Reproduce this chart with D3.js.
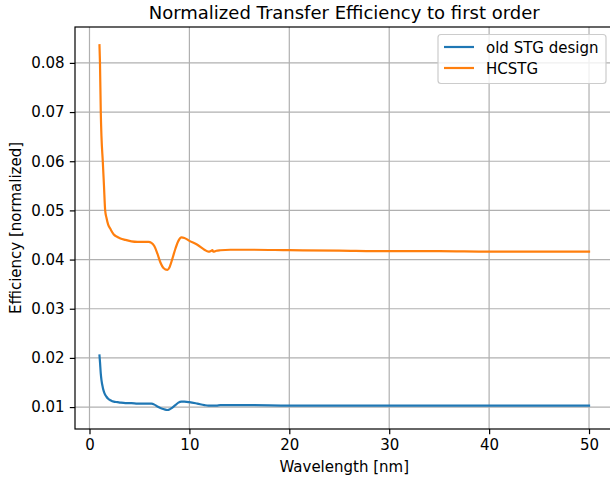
<!DOCTYPE html>
<html>
<head>
<meta charset="utf-8">
<script src="https://cdn.jsdelivr.net/npm/d3@7"></script>
<style>
  body { margin: 0; background: #fff; }
  text { font-family: "DejaVu Sans", sans-serif; fill: #000; }
</style>
</head>
<body>
<div id="chart"></div>
<script>
// wavelength samples [nm]
var wavelength = [1.0, 1.05, 1.13, 1.2, 1.33, 1.45, 1.57, 1.7, 1.87, 2.1,
    2.43, 2.8, 3.1, 3.6, 4.2, 4.8, 5.5, 5.9, 6.2, 6.5,
    6.8, 7.1, 7.4, 7.8, 8.0, 8.3, 8.6, 8.9, 9.2, 9.5,
    10.0, 10.8, 11.5, 11.9, 12.2, 12.3, 12.4, 12.7, 13.1, 14.1,
    16, 20, 25, 30, 35, 40, 45, 50];

var oldStg = [0.0205, 0.0192, 0.0168, 0.0155, 0.0140, 0.0131, 0.0125, 0.0121, 0.0117, 0.0114,
    0.0111, 0.0110, 0.0109, 0.0108, 0.0108, 0.0107, 0.0107, 0.0107, 0.0107, 0.0105,
    0.0101, 0.0098, 0.0096, 0.0094, 0.0095, 0.0099, 0.0104, 0.0109, 0.0111, 0.0111,
    0.0110, 0.0107, 0.0104, 0.0103, 0.0103, 0.0103, 0.0103, 0.0103, 0.0104, 0.0104,
    0.0104, 0.0103, 0.0103, 0.0103, 0.0103, 0.0103, 0.0103, 0.0103];

var hcstg = [0.0836, 0.0800, 0.0700, 0.0650, 0.0600, 0.0550, 0.0500, 0.0485, 0.0471, 0.0462,
    0.0451, 0.0446, 0.0443, 0.0440, 0.0437, 0.0436, 0.0436, 0.0436, 0.0434, 0.0427,
    0.0412, 0.0394, 0.0383, 0.0379, 0.0384, 0.0402, 0.0422, 0.0438, 0.0445, 0.0444,
    0.0438, 0.0430, 0.0420, 0.0416, 0.0418, 0.0419, 0.0416, 0.0418, 0.0419, 0.0420,
    0.0420, 0.0419, 0.0418, 0.0417, 0.0417, 0.0416, 0.0416, 0.0416];

var xTicks = [0, 10, 20, 30, 40, 50];
var yTicks = [0.01, 0.02, 0.03, 0.04, 0.05, 0.06, 0.07, 0.08];
var seriesNames = ["old STG design", "HCSTG"];
var seriesColors = ["#1f77b4", "#ff7f0e"];

var W = 610, H = 477;
var axLeft = 75, axTop = 27, axRight = 613.5, axBottom = 429;
var fs = 15;

var svg = d3.select("#chart").append("svg").attr("width", W).attr("height", H);

var x = d3.scaleLinear().domain([-1.45, 52.45]).range([axLeft, axRight]);
var y = d3.scaleLinear().domain([0.00554, 0.0873]).range([axBottom, axTop]);

// grid
var grid = svg.append("g");
grid.selectAll("line.gx").data(xTicks).enter().append("line")
    .attr("x1", d => x(d)).attr("x2", d => x(d))
    .attr("y1", axTop).attr("y2", axBottom)
    .attr("stroke", "#b0b0b0").attr("stroke-width", 1.2);
grid.selectAll("line.gy").data(yTicks).enter().append("line")
    .attr("x1", axLeft).attr("x2", axRight)
    .attr("y1", d => y(d)).attr("y2", d => y(d))
    .attr("stroke", "#b0b0b0").attr("stroke-width", 1.2);

// lines
var series = [oldStg, hcstg];
var line = d3.line()
    .x((d, i) => x(wavelength[i]))
    .y(d => y(d))
    .curve(d3.curveMonotoneX);

series.forEach(function (s, k) {
    svg.append("path")
        .datum(s)
        .attr("d", line)
        .attr("fill", "none")
        .attr("stroke", seriesColors[k])
        .attr("stroke-width", 2.2)
        .attr("stroke-linejoin", "round")
        .attr("stroke-linecap", "square");
});

// axes
var xAxis = d3.axisBottom(x).tickValues(xTicks).tickSize(5.2).tickPadding(5.2).tickFormat(d3.format("d"));
var yAxis = d3.axisLeft(y).tickValues(yTicks).tickSize(5.2).tickPadding(5.2).tickFormat(d3.format(".2f"));

var gx = svg.append("g").attr("transform", "translate(0," + axBottom + ")").call(xAxis);
var gy = svg.append("g").attr("transform", "translate(" + axLeft + ",0)").call(yAxis);
[gx, gy].forEach(function (g) {
    g.select(".domain").remove();
    g.selectAll(".tick line").attr("stroke", "#000").attr("stroke-width", 1.2);
    g.selectAll(".tick text").attr("font-size", fs + "px").attr("font-family", "DejaVu Sans, sans-serif").attr("fill", "#000");
});

// spines
svg.append("rect")
    .attr("x", axLeft).attr("y", axTop)
    .attr("width", axRight - axLeft).attr("height", axBottom - axTop)
    .attr("fill", "none").attr("stroke", "#000").attr("stroke-width", 1.2);

// labels
svg.append("text")
    .attr("x", (axLeft + axRight) / 2).attr("y", 19)
    .attr("text-anchor", "middle").attr("font-size", "18px")
    .text("Normalized Transfer Efficiency to first order");

svg.append("text")
    .attr("x", (axLeft + axRight) / 2).attr("y", 472)
    .attr("text-anchor", "middle").attr("font-size", fs + "px")
    .text("Wavelength [nm]");

svg.append("text")
    .attr("transform", "translate(21," + (axTop + axBottom) / 2 + ") rotate(-90)")
    .attr("text-anchor", "middle").attr("font-size", fs + "px")
    .text("Efficiency [normalized]");

// legend
var lg = svg.append("g");
lg.append("rect")
    .attr("x", 438).attr("y", 34.5).attr("width", 168).attr("height", 49).attr("rx", 3)
    .attr("fill", "#fff").attr("fill-opacity", 0.8)
    .attr("stroke", "#cccccc").attr("stroke-width", 1.2);
seriesNames.forEach(function (name, k) {
    var yy = 47 + k * 21;
    lg.append("line")
        .attr("x1", 444).attr("x2", 474).attr("y1", yy).attr("y2", yy)
        .attr("stroke", seriesColors[k]).attr("stroke-width", 2.2);
    lg.append("text")
        .attr("x", 486).attr("y", yy + 5.5)
        .attr("font-size", fs + "px")
        .text(name);
});
</script>
</body>
</html>
